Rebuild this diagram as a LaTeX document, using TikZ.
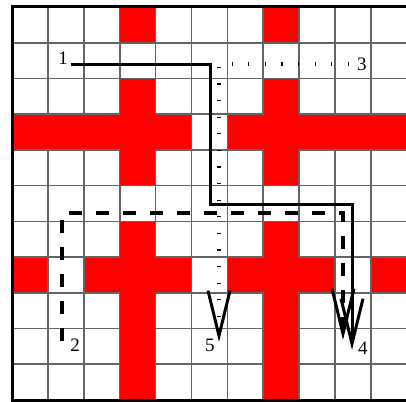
\documentclass[tikz,border=0pt]{standalone}
\usepackage{fontspec}
\setmainfont{Liberation Serif}
\usetikzlibrary{arrows.meta}
\definecolor{cellred}{RGB}{255,0,0}
\definecolor{gridgray}{RGB}{100,100,100}
\tikzset{
  gridline/.style={draw=gridgray, line width=1.7pt},
  redcell/.style={fill=cellred, draw=none},
  border/.style={draw=black, line width=3pt},
  lbl/.style={inner sep=0pt, font=\fontsize{19}{19}\selectfont},
  vtip/.tip={Straight Barb[length=45pt, width=22pt, line width=3pt, sharp]},
  solidpath/.style={draw=black, line width=3pt, -vtip},
  dashpath/.style={draw=black, line width=3.2pt, dash pattern=on 13pt off 14pt, -vtip},
  dotpath/.style={draw=black, line width=3.5pt, dash pattern=on 1.2pt off 15.4pt, -vtip},
}
\begin{document}
\begin{tikzpicture}[x=35.9pt, y=-35.73pt]
\useasboundingbox (-0.3343,-0.1959) rectangle (10.975,11.055);
\clip (-0.3343,-0.1959) rectangle (10.975,11.055);
\fill[white] (-0.3343,-0.1959) rectangle (10.975,11.055);
% grid
\foreach \i in {0,...,12} { \draw[gridline] (\i,0) -- (\i,11); }
\foreach \j in {0,...,11} { \draw[gridline] (0,\j) -- (11.5,\j); }
% red cells (inset so outer grid lines stay visible)
\def\ins{0.022}
\foreach \a/\b/\c/\d in {3/0/4/1, 7/0/8/1,
  3/2/4/5, 0/3/5/4,
  7/2/8/5, 6/3/11.5/4,
  3/6/4/11, 2/7/5/8,
  7/6/8/11, 6/7/9/8,
  0/7/1/8, 10/7/11.5/8}
  { \fill[redcell] (\a+\ins,\b+\ins) rectangle (\c-\ins,\d-\ins); }
% border
\draw[border] (11.5,0) -- (0,0) -- (0,11) -- (11.5,11);
% labels
\node[lbl] (l1) at (1.421,1.427) {1};
\node[lbl] (l2) at (1.755,9.46) {2};
\node[lbl] (l3) at (9.749,1.595) {3};
\node[lbl] (l4) at (9.777,9.544) {4};
\node[lbl] (l5) at (5.515,9.46) {5};
% path points
\coordinate (s1) at (1.643,1.623);
\coordinate (s1a) at (5.543,1.623);
\coordinate (s1b) at (5.543,5.514);
\coordinate (s1c) at (9.471,5.514);
\coordinate (t1) at (9.471,9.6);
\coordinate (s2) at (1.393,9.348);
\coordinate (s2a) at (1.393,5.765);
\coordinate (s2b) at (9.220,5.765);
\coordinate (t2) at (9.220,9.32);
\coordinate (s3) at (9.387,1.595);
\coordinate (s3a) at (5.766,1.595);
\coordinate (t3) at (5.766,9.376);
% paths
\draw[dotpath] (s3) -- (s3a) -- (t3);
\draw[dashpath] (s2) -- (s2a) -- (s2b) -- (t2);
\draw[solidpath] (s1) -- (s1a) -- (s1b) -- (s1c) -- (t1);
\end{tikzpicture}
\end{document}
